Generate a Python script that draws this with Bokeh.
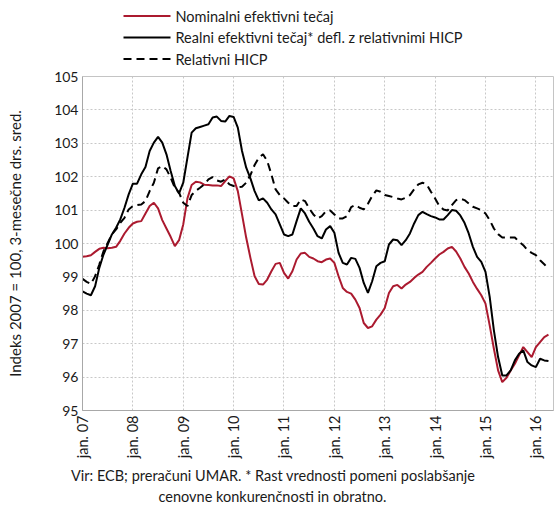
import math
from bokeh.plotting import figure
from bokeh.layouts import column
from bokeh.models import Range1d, FixedTicker, Title
from bokeh.core.properties import value
from bokeh.embed import file_html
from bokeh.resources import INLINE

# month index 0 = Jan 2007
nominal = [99.60, 99.62, 99.65, 99.75, 99.84, 99.87, 99.86, 99.87, 99.90, 100.08, 100.30, 100.47,
           100.60, 100.65, 100.67, 100.90, 101.12, 101.22, 101.05, 100.70, 100.45, 100.20, 99.92, 100.10,
           100.57, 101.35, 101.75, 101.85, 101.83, 101.76, 101.75, 101.74, 101.74, 101.72, 101.87, 102.01,
           101.95, 101.57, 100.87, 100.17, 99.57, 99.02, 98.79, 98.77, 98.92, 99.17, 99.39, 99.42,
           99.12, 98.95, 99.17, 99.52, 99.70, 99.72, 99.60, 99.55, 99.47, 99.44, 99.52, 99.55,
           99.42, 99.02, 98.67, 98.55, 98.50, 98.32, 98.07, 97.62, 97.47, 97.52, 97.72, 97.87,
           98.07, 98.52, 98.72, 98.76, 98.65, 98.77, 98.85, 98.97, 99.07, 99.15, 99.30, 99.42,
           99.55, 99.67, 99.75, 99.85, 99.90, 99.76, 99.55, 99.30, 99.10, 98.85, 98.64, 98.45,
           98.20, 97.55, 96.85, 96.20, 95.85, 95.98, 96.20, 96.40, 96.65, 96.90, 96.75, 96.60,
           96.90, 97.05, 97.20, 97.27]
real = [98.57, 98.50, 98.45, 98.72, 99.27, 99.67, 99.97, 100.27, 100.47, 100.72, 101.07, 101.47,
        101.79, 101.79, 102.07, 102.29, 102.77, 103.02, 103.19, 103.02, 102.67, 102.17, 101.72, 101.50,
        101.82, 102.57, 103.32, 103.45, 103.49, 103.53, 103.57, 103.77, 103.80, 103.67, 103.65, 103.82,
        103.79, 103.47, 102.77, 102.27, 101.95, 101.57, 101.29, 101.35, 101.22, 101.02, 100.87, 100.57,
        100.27, 100.22, 100.27, 100.67, 101.05, 100.90, 100.65, 100.45, 100.22, 100.15, 100.42, 100.52,
        100.32, 99.72, 99.42, 99.37, 99.57, 99.54, 99.27, 98.82, 98.52, 98.87, 99.32, 99.42,
        99.47, 99.97, 100.12, 100.10, 99.95, 100.10, 100.30, 100.60, 100.85, 100.95, 100.88, 100.82,
        100.78, 100.72, 100.72, 100.85, 101.00, 100.98, 100.84, 100.62, 100.30, 99.90, 99.60, 99.45,
        99.15, 98.40, 97.40, 96.60, 96.05, 96.05, 96.20, 96.50, 96.70, 96.80, 96.45, 96.35,
        96.30, 96.55, 96.50, 96.48]
hicp = [98.94, 98.85, 98.79, 99.02, 99.37, 99.77, 100.02, 100.27, 100.42, 100.62, 100.77, 101.02,
        101.12, 101.15, 101.17, 101.27, 101.57, 101.82, 102.25, 102.32, 102.22, 101.97, 101.67, 101.52,
        101.22, 101.12, 101.45, 101.58, 101.67, 101.77, 101.92, 101.99, 101.89, 101.85, 101.92, 101.77,
        101.72, 101.69, 101.70, 101.82, 102.05, 102.35, 102.57, 102.67, 102.47, 102.07, 101.62, 101.45,
        101.35, 101.22, 101.12, 101.12, 101.32, 101.27, 101.05, 100.87, 100.75, 100.82, 100.97, 100.99,
        100.87, 100.75, 100.75, 100.82, 101.09, 101.15, 101.07, 101.02, 101.19, 101.42, 101.59, 101.55,
        101.45, 101.42, 101.39, 101.35, 101.32, 101.37, 101.45, 101.62, 101.77, 101.82, 101.77, 101.55,
        101.35, 101.12, 101.02, 100.99, 101.15, 101.30, 101.34, 101.30, 101.20, 101.10, 101.05, 101.00,
        100.90, 100.70, 100.45, 100.28, 100.18, 100.18, 100.18, 100.18, 100.05, 99.95, 99.80, 99.72,
        99.65, 99.50, 99.38, 99.24]
months = list(range(len(nominal)))

tick_positions = [0, 12, 24, 36, 48, 60, 72, 84, 96, 108]
tick_labels = ["jan. 07", "jan. 08", "jan. 09", "jan. 10", "jan. 11",
               "jan. 12", "jan. 13", "jan. 14", "jan. 15", "jan. 16"]
y_ticks = [95, 96, 97, 98, 99, 100, 101, 102, 103, 104, 105]

series_names = ["Nominalni efektivni tečaj",
                "Realni efektivni tečaj* defl. z relativnimi HICP",
                "Relativni HICP"]
source_lines = ["Vir: ECB; preračuni UMAR. * Rast vrednosti pomeni poslabšanje",
                "cenovne konkurenčnosti in obratno."]
y_title = "Indeks 2007 = 100, 3-mesečne drs. sred."

FONT = "Lato"
RED = "#ab1a2f"
TXT = "#1a1a1a"
W = 555
TOTAL_H = 506
BL, BR = 82, 2          # shared left/right borders so frames line up
FRAME_W = W - BL - BR
HEAD_H = 69

series_colors = [RED, "black", "black"]
series_dash = ["solid", "solid", "8 5"]

# ---------- legend strip (pixel-unit coordinates of its own frame) ----------
head = figure(width=W, height=HEAD_H, output_backend="svg", toolbar_location=None,
              x_range=Range1d(0, FRAME_W), y_range=Range1d(0, HEAD_H),
              x_axis_type=None, y_axis_type=None,
              min_border_left=BL, min_border_right=BR, min_border_top=0, min_border_bottom=0)
head.outline_line_color = None
head.grid.visible = False
key_x = (41, 88)
label_x = 93
row_y = [HEAD_H - 15.5, HEAD_H - 37, HEAD_H - 58.5]
for name, col, dash, ry in zip(series_names, series_colors, series_dash, row_y):
    head.line([key_x[0], key_x[1]], [ry, ry], line_color=col, line_width=2, line_dash=dash)
head.text(x=[label_x] * 3, y=row_y, text=series_names, text_font=value(FONT),
          text_font_size=value("14.5px"), text_baseline="middle", text_align="left",
          text_color=TXT)

# ---------- main chart ----------
p = figure(width=W, height=TOTAL_H - HEAD_H, output_backend="svg", toolbar_location=None,
           x_range=Range1d(0, 112.2), y_range=Range1d(95, 105),
           min_border_left=BL, min_border_right=BR, min_border_top=7, min_border_bottom=96)
p.background_fill_color = "white"
p.border_fill_color = "white"
p.outline_line_color = "#c4c4c4"
p.outline_line_width = 1

for g in (p.xgrid, p.ygrid):
    g.grid_line_color = "#c8c8c8"
    g.grid_line_dash = "2 2"
    g.grid_line_width = 1
p.xgrid.ticker = FixedTicker(ticks=tick_positions)
p.ygrid.ticker = FixedTicker(ticks=y_ticks)

p.xaxis.ticker = FixedTicker(ticks=tick_positions)
p.xaxis.major_label_overrides = {pos: lab for pos, lab in zip(tick_positions, tick_labels)}
p.xaxis.major_label_orientation = math.pi / 2
p.yaxis.ticker = FixedTicker(ticks=y_ticks)
for ax in (p.xaxis, p.yaxis):
    ax.axis_line_color = "#a8a8a8"
    ax.major_tick_line_color = None
    ax.minor_tick_line_color = None
    ax.major_tick_out = 0
    ax.major_tick_in = 0
    ax.minor_tick_out = 0
    ax.major_label_text_font = FONT
    ax.major_label_text_color = TXT
p.xaxis.major_label_standoff = 5
p.yaxis.major_label_standoff = 4
p.xaxis.major_label_text_font_size = "14.5px"
p.yaxis.major_label_text_font_size = "14px"
p.yaxis.axis_label = y_title
p.yaxis.axis_label_text_font = FONT
p.yaxis.axis_label_text_font_size = "15px"
p.yaxis.axis_label_text_font_style = "normal"
p.yaxis.axis_label_text_color = TXT
p.yaxis.axis_label_standoff = 27

series = [nominal, real, hicp]
for vals, col, dash in zip(series, series_colors, series_dash):
    p.line(months, vals, line_color=col, line_width=2, line_dash=dash)

# note under the chart
note_offsets = [-11.5, 76]
note_valign = ["bottom", "top"]
note_standoff = [7, 0]
for line, off, va, so in zip(source_lines, note_offsets, note_valign, note_standoff):
    p.add_layout(Title(text=line, align="left", offset=off, vertical_align=va, standoff=so,
                       text_font=FONT, text_font_size="14.5px", text_font_style="normal",
                       text_color=TXT), "below")

layout = column(head, p, spacing=0)
open("out.html", "w").write(file_html(layout, INLINE))
